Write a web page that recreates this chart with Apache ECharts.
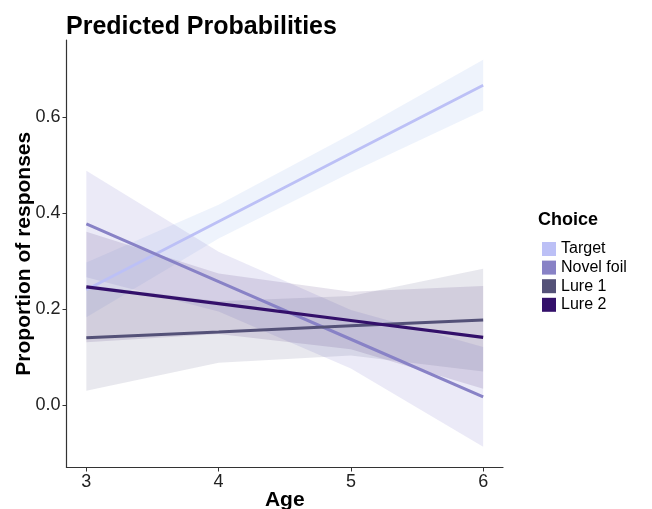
<!DOCTYPE html>
<html>
<head>
<meta charset="utf-8">
<script src="https://cdn.jsdelivr.net/npm/echarts@6/dist/echarts.min.js"></script>
<style>
html,body{margin:0;padding:0;background:#fff;}
#chart{width:652px;height:509px;}
</style>
</head>
<body>
<div id="chart"></div>
<script>
// ---- data ----
const ages = [3, 4, 5, 6];
const choices = ['Target', 'Novel foil', 'Lure 1', 'Lure 2'];

const targetFit = [0.240, 0.382, 0.524, 0.666];
const targetLo  = [0.183, 0.347, 0.484, 0.613];
const targetHi  = [0.297, 0.417, 0.564, 0.719];

const novelFit = [0.377, 0.257, 0.137, 0.017];
const novelLo  = [0.266, 0.195, 0.076, -0.087];
const novelHi  = [0.488, 0.319, 0.198, 0.121];

const lure1Fit = [0.140, 0.152, 0.165, 0.177];
const lure1Lo  = [0.030, 0.088, 0.103, 0.070];
const lure1Hi  = [0.250, 0.216, 0.227, 0.284];

const lure2Fit = [0.246, 0.211, 0.176, 0.141];
const lure2Lo  = [0.131, 0.148, 0.116, 0.034];
const lure2Hi  = [0.361, 0.274, 0.236, 0.248];

const yTicks = [0, 0.2, 0.4, 0.6];
const xTicks = [3, 4, 5, 6];

// ---- styling ----
const lineColors = ['#bcc0f6', '#8882c6', '#545178', '#33106a'];
const ribbonColors = ['rgba(200,214,245,0.30)', 'rgba(150,146,210,0.19)', 'rgba(95,92,135,0.14)', 'rgba(60,30,110,0.13)'];
const lineWidths = [2.8, 3, 3, 3.2];

const fits = [targetFit, novelFit, lure1Fit, lure2Fit];
const los = [targetLo, novelLo, lure1Lo, lure2Lo];
const his = [targetHi, novelHi, lure1Hi, lure2Hi];

const FONT = 'Liberation Sans, Arial, Helvetica, sans-serif';

const series = [];
choices.forEach((name, k) => {
  series.push({
    name: name + ' CI', type: 'custom',
    data: ages.map((a, i) => [a, los[k][i], his[k][i]]),
    encode: { x: 0, y: [1, 2] },
    silent: true, z: 1,
    renderItem: function (params, api) {
      if (params.dataIndex !== 0) return null;
      const upper = ages.map((a, i) => api.coord([a, his[k][i]]));
      const lower = ages.map((a, i) => api.coord([a, los[k][i]])).reverse();
      return {
        type: 'polygon',
        shape: { points: upper.concat(lower) },
        style: { fill: ribbonColors[k], stroke: null }
      };
    }
  });
});
choices.forEach((name, k) => {
  series.push({
    name: name, type: 'line',
    data: ages.map((a, i) => [a, fits[k][i]]),
    symbol: 'none',
    itemStyle: { color: lineColors[k] },
    lineStyle: { color: lineColors[k], width: lineWidths[k] },
    z: 3, emphasis: { disabled: true }
  });
});

const chart = echarts.init(document.getElementById('chart'), null, { renderer: 'canvas' });
chart.setOption({
  animation: false,
  backgroundColor: '#ffffff',
  grid: { left: 66.5, right: 149, top: 40, bottom: 41.5, containLabel: false, outerBoundsMode: 'none' },
  xAxis: {
    type: 'value', min: 2.85, max: 6.15,
    name: 'Age', nameLocation: 'middle', nameGap: 22, nameMoveOverlap: false,
    nameTextStyle: { fontFamily: FONT, fontWeight: 'bold', fontSize: 21, color: '#000' },
    axisLine: { onZero: false, lineStyle: { color: '#333', width: 1.2 } },
    axisTick: { customValues: xTicks, length: 4, lineStyle: { color: '#333' } },
    axisLabel: { customValues: xTicks, fontFamily: FONT, fontSize: 18, color: '#222', margin: 6 },
    splitLine: { show: false }
  },
  yAxis: {
    type: 'value', min: -0.13, max: 0.76,
    name: 'Proportion of responses', nameLocation: 'middle', nameGap: 32, nameRotate: 90, nameMoveOverlap: false,
    nameTextStyle: { fontFamily: FONT, fontWeight: 'bold', fontSize: 21, color: '#000' },
    axisLine: { show: true, onZero: false, lineStyle: { color: '#333', width: 1.2 } },
    axisTick: { show: true, customValues: yTicks, length: 4, lineStyle: { color: '#333' } },
    axisLabel: { customValues: yTicks, fontFamily: FONT, fontSize: 18, color: '#222', margin: 6,
      formatter: v => v.toFixed(1) },
    splitLine: { show: false }
  },
  legend: {
    data: choices,
    orient: 'vertical', left: 537, top: 236,
    icon: 'rect', itemWidth: 14, itemHeight: 14, itemGap: 2.6,
    textStyle: { fontFamily: FONT, fontSize: 16, color: '#000', lineHeight: 14, padding: [0, 0, 0, 0] },
    itemStyle: { borderWidth: 0 },
    selectedMode: false
  },
  graphic: [
    { type: 'text', left: 66, top: 15,
      style: { text: 'Predicted Probabilities', font: 'bold 25px ' + FONT, fill: '#000' } },
    { type: 'text', left: 538, top: 211,
      style: { text: 'Choice', font: 'bold 18px ' + FONT, fill: '#000' } }
  ],
  series: series
});
</script>
</body>
</html>
